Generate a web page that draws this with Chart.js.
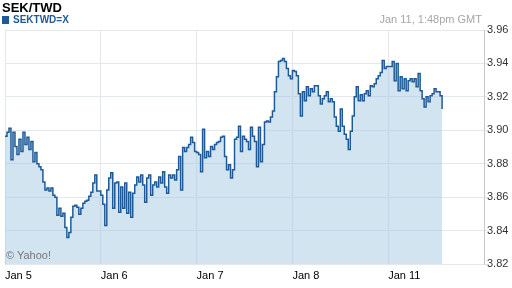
<!DOCTYPE html>
<html lang="en">
<head>
<meta charset="UTF-8">
<title>SEK/TWD</title>
<script src="https://cdn.jsdelivr.net/npm/chart.js"></script>
<style>
    body {
        margin: 0;
        background: #fff;
        font-family: Arial, "Liberation Sans", sans-serif;
    }

    .wrap {
        position: relative;
        width: 512px;
        height: 288px;
    }

    .title {
        position: absolute;
        left: 2px;
        top: 0px;
        font-size: 13px;
        font-weight: bold;
        color: #000;
    }

    .symbol {
        position: absolute;
        left: 2px;
        top: 14px;
        font-size: 10px;
        font-weight: bold;
        color: #1f5a96;
    }

    .symbol span {
        display: inline-block;
        width: 7px;
        height: 8px;
        background: #1f5a96;
        margin-right: 4px;
        vertical-align: -1px;
    }

    .stamp {
        position: absolute;
        right: 30px;
        top: 13px;
        font-size: 11px;
        color: #a6a6a6;
    }

    .credit {
        position: absolute;
        left: 6px;
        top: 249px;
        font-size: 11px;
        color: #777;
    }
</style>
</head>
<body>
<div class="wrap">
    <canvas id="chart"></canvas>
    <div class="title">SEK/TWD</div>
    <div class="symbol"><span></span>SEKTWD=X</div>
    <div class="stamp">Jan 11, 1:48pm GMT</div>
    <div class="credit">&copy; Yahoo!</div>
</div>

<script>
    // x axis: one tick per trading day, points every 30 minutes
    const dayLabels = ['Jan 5', 'Jan 6', 'Jan 7', 'Jan 8', 'Jan 11'];
    const pointsPerDay = 48;
    const yMin = 3.82;
    const yMax = 3.96;
    const yStep = 0.02;

    // SEK/TWD quotes, half-hourly from Jan 5 00:00 GMT
    const rates = [
        3.8964, 3.8988, 3.9012, 3.8824, 3.8988, 3.8903, 3.8855, 3.8946, 3.8873, 3.8988,
        3.8915, 3.8958, 3.8885, 3.8933, 3.8812, 3.8867, 3.8800, 3.8782, 3.8764, 3.8691,
        3.8643, 3.8655, 3.8637, 3.8655, 3.8612, 3.8600, 3.8491, 3.8533, 3.8485, 3.8503,
        3.8418, 3.8358, 3.8388, 3.8479, 3.8545, 3.8551, 3.8539, 3.8497, 3.8533, 3.8564,
        3.8576, 3.8582, 3.8606, 3.8630, 3.8685, 3.8733, 3.8637, 3.8637, 3.8612, 3.8558,
        3.8430, 3.8643, 3.8715, 3.8746, 3.8533, 3.8685, 3.8691, 3.8509, 3.8661, 3.8533,
        3.8685, 3.8503, 3.8630, 3.8479, 3.8624, 3.8673, 3.8721, 3.8691, 3.8733, 3.8673,
        3.8570, 3.8715, 3.8733, 3.8612, 3.8673, 3.8691, 3.8661, 3.8721, 3.8685, 3.8752,
        3.8661, 3.8624, 3.8733, 3.8715, 3.8733, 3.8703, 3.8764, 3.8843, 3.8643, 3.8897,
        3.8873, 3.8897, 3.8915, 3.8958, 3.8927, 3.8873, 3.8867, 3.8855, 3.8752, 3.9006,
        3.8836, 3.8873, 3.8843, 3.8903, 3.8885, 3.8915, 3.8927, 3.8933, 3.8958, 3.8964,
        3.8843, 3.8764, 3.8794, 3.8715, 3.8764, 3.8946, 3.8958, 3.9024, 3.8873, 3.8964,
        3.8946, 3.8933, 3.8885, 3.9018, 3.8964, 3.8933, 3.8782, 3.9018, 3.8812, 3.8915,
        3.9049, 3.9055, 3.9049, 3.9079, 3.9115, 3.9230, 3.9321, 3.9412, 3.9418, 3.9430,
        3.9412, 3.9370, 3.9327, 3.9309, 3.9358, 3.9352, 3.9327, 3.9218, 3.9085, 3.9230,
        3.9176, 3.9261, 3.9206, 3.9249, 3.9230, 3.9267, 3.9267, 3.9206, 3.9158, 3.9188,
        3.9206, 3.9230, 3.9170, 3.9188, 3.9170, 3.9079, 3.9024, 3.8994, 3.9127, 3.9024,
        3.8976, 3.8946, 3.8885, 3.8994, 3.9085, 3.9200, 3.9261, 3.9176, 3.9212, 3.9176,
        3.9218, 3.9236, 3.9206, 3.9267, 3.9261, 3.9279, 3.9309, 3.9327, 3.9346, 3.9418,
        3.9370, 3.9382, 3.9382, 3.9382, 3.9412, 3.9297, 3.9400, 3.9236, 3.9321, 3.9249,
        3.9309, 3.9236, 3.9297, 3.9309, 3.9291, 3.9309, 3.9261, 3.9340, 3.9236, 3.9188,
        3.9139, 3.9200, 3.9170, 3.9206, 3.9218, 3.9249, 3.9230, 3.9230, 3.9206, 3.9127
    ];

    const gridColor = '#e3e8ef';

    new Chart(document.getElementById('chart'), {
        type: 'line',
        data: {
            datasets: [{
                data: rates.map((v, i) => ({ x: i, y: v })),
                borderColor: '#1f5a96',
                borderWidth: 1.5,
                backgroundColor: 'rgba(150, 190, 222, 0.42)',
                fill: 'start',
                pointRadius: 0,
                stepped: true
            }]
        },
        options: {
            responsive: true,
            maintainAspectRatio: false,
            animation: false,
            layout: { padding: { top: 30, left: 3, right: 0, bottom: 0 } },
            plugins: {
                legend: { display: false },
                tooltip: { enabled: false }
            },
            scales: {
                x: {
                    type: 'linear',
                    min: 0,
                    max: pointsPerDay * 5,
                    afterFit: s => { s.height = 24; },
                    afterBuildTicks: s => {
                        s.ticks = [0, 1, 2, 3, 4, 5].map(d => ({ value: d * pointsPerDay }));
                    },
                    grid: { color: gridColor, drawTicks: false },
                    border: { color: gridColor },
                    ticks: {
                        autoSkip: false,
                        maxRotation: 0,
                        align: 'start',
                        padding: 5,
                        color: '#000',
                        font: { family: 'Arial, "Liberation Sans"', size: 11 },
                        callback: v => dayLabels[v / pointsPerDay] || ''
                    }
                },
                y: {
                    position: 'right',
                    min: yMin,
                    max: yMax,
                    afterFit: s => { s.width = 28; },
                    grid: { color: gridColor, tickLength: 3 },
                    border: { color: '#c8c8c8' },
                    ticks: {
                        stepSize: yStep,
                        padding: 0,
                        color: '#333',
                        font: { family: 'Arial, "Liberation Sans"', size: 11 },
                        callback: v => v.toFixed(2)
                    }
                }
            }
        }
    });
</script>
</body>
</html>
